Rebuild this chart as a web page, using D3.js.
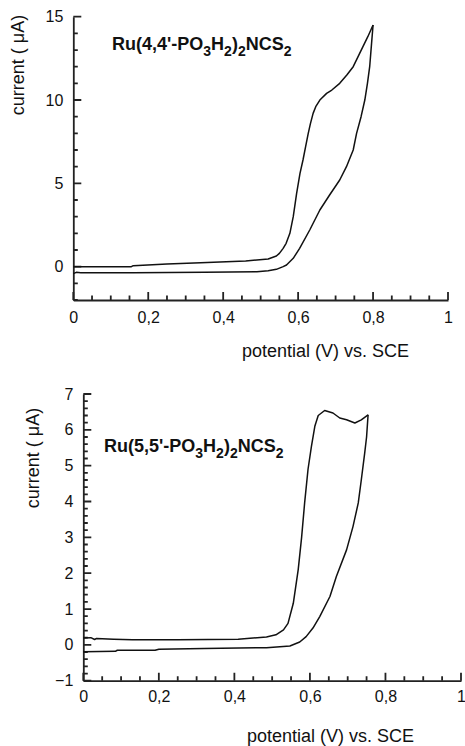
<!DOCTYPE html>
<html>
<head>
<meta charset="utf-8">
<script src="https://cdn.jsdelivr.net/npm/d3@7"></script>
<style>
  body { margin: 0; background: #fff; }
  svg text { font-family: "Liberation Sans", Arial, sans-serif; fill: #111; }
  .axis path { stroke: #222; stroke-width: 1.8; }
  .axis text { font-size: 16px; }
</style>
</head>
<body>
<script>
var width = 465,
    height = 746

// top panel: Ru(4,4'-PO3H2)2NCS2, potential (V) / current (uA)
var topForward = [[0,-0.42],[0.008,-0.34],[0.02,-0.36],[0.16,-0.36],[0.35,-0.34],[0.49,-0.3],[0.52,-0.24],
  [0.542,-0.16],[0.56,0.0],[0.569,0.1],[0.587,0.5],[0.604,1.1],[0.631,2.2],[0.658,3.4],[0.684,4.3],
  [0.711,5.2],[0.729,6.0],[0.747,7.0],[0.756,8.0],[0.768,9.0],[0.778,10.0],[0.785,11.0],[0.791,12.0],
  [0.796,13.4],[0.8,14.5]];
var topReverse = [[0.8,14.5],[0.786,13.8],[0.773,13.2],[0.76,12.6],[0.747,12.0],[0.73,11.5],[0.711,11.0],
  [0.69,10.6],[0.676,10.4],[0.658,10.0],[0.647,9.6],[0.64,9.2],[0.633,8.6],[0.627,8.0],[0.62,7.2],
  [0.613,6.4],[0.605,5.6],[0.596,4.4],[0.587,3.0],[0.578,2.0],[0.568,1.4],[0.56,1.1],[0.55,0.8],
  [0.542,0.64],[0.52,0.46],[0.46,0.34],[0.34,0.24],[0.25,0.16],[0.16,0.06],[0.155,0.0],[0,0.0]];

// bottom panel: Ru(5,5'-PO3H2)2NCS2
var botForward = [[0,-0.19],[0.085,-0.18],[0.09,-0.15],[0.19,-0.15],[0.2,-0.12],[0.32,-0.1],[0.485,-0.08],
  [0.547,-0.03],[0.573,0.08],[0.59,0.23],[0.608,0.47],[0.626,0.79],[0.653,1.35],[0.67,1.91],[0.697,2.65],
  [0.714,3.3],[0.728,3.96],[0.736,4.6],[0.745,5.35],[0.75,5.8],[0.754,6.42]];
var botReverse = [[0.754,6.42],[0.736,6.28],[0.719,6.19],[0.697,6.28],[0.679,6.33],[0.661,6.47],[0.639,6.54],
  [0.622,6.4],[0.613,6.1],[0.604,5.54],[0.595,4.9],[0.586,3.96],[0.578,3.0],[0.569,2.1],[0.556,1.16],
  [0.542,0.6],[0.53,0.42],[0.51,0.28],[0.485,0.22],[0.41,0.16],[0.25,0.14],[0.13,0.14],[0.08,0.16],
  [0.035,0.18],[0.03,0.15],[0.02,0.2],[0,0.19]];

var xMajor = [0, 0.2, 0.4, 0.6, 0.8, 1];
var topYMajor = [0, 5, 10, 15];
var botYMajor = [-1, 0, 1, 2, 3, 4, 5, 6, 7];

var svg = d3.select("body").append("svg")
    .attr("width", width)
    .attr("height", height);

var comma = function(d) { return String(d).replace(".", ","); };

function panel(p) {
  var x = d3.scaleLinear().domain([0, 1]).range([p.left, p.right]);
  var y = d3.scaleLinear().domain(p.yDomain).range([p.bottom, p.top]);
  var g = svg.append("g");

  // axis lines + labels
  g.append("g").attr("class", "axis")
      .attr("transform", "translate(0," + p.bottom + ")")
      .call(d3.axisBottom(x).tickValues(xMajor).tickSize(0)
            .tickPadding(p.xPad).tickFormat(comma));
  g.append("g").attr("class", "axis")
      .attr("transform", "translate(" + p.left + ",0)")
      .call(d3.axisLeft(y).tickValues(p.yMajor).tickSize(0)
            .tickPadding(10).tickFormat(d3.format("d")));

  // inward ticks, major longer than minor
  var isMajor = function(v, list) { return list.some(function(m) { return Math.abs(m - v) < 1e-6; }); };
  var dx = d3.range(0, 1.0001, 0.05).map(function(d) {
    return "M" + x(d) + "," + p.bottom + "V" + (p.bottom - (isMajor(d, xMajor) ? 8 : 4.5));
  }).join("");
  var dy = p.yMinor.map(function(d) {
    return "M" + p.left + "," + y(d) + "H" + (p.left + (isMajor(d, p.yMajor) ? 8 : 4.5));
  }).join("");
  g.append("path").attr("d", dx + dy)
      .attr("fill", "none")
      .attr("stroke", "#222")
      .attr("stroke-width", 1.8);

  var line = d3.line().x(function(d) { return x(d[0]); }).y(function(d) { return y(d[1]); });
  [p.fwd, p.rev].forEach(function(s) {
    g.append("path").datum(s)
        .attr("d", line)
        .attr("fill", "none")
        .attr("stroke", "#111")
        .attr("stroke-width", 1.5)
        .attr("stroke-linejoin", "round");
  });

  g.append("text")
      .attr("x", p.xTitle[0]).attr("y", p.xTitle[1])
      .style("font-size", "18px")
      .text("potential (V) vs. SCE");
  g.append("text")
      .attr("transform", "translate(" + p.yTitle[0] + "," + p.yTitle[1] + ") rotate(-90)")
      .attr("text-anchor", "middle")
      .style("font-size", "18px")
      .text("current ( \u03bcA)");

  // compound label with subscripts
  var t = g.append("text")
      .attr("x", p.label[0]).attr("y", p.label[1])
      .style("font-size", "18px")
      .style("font-weight", "bold");
  var parts = [[p.name, 0], ["3", 1], ["H", 0], ["2", 1], [")", 0], ["2", 1], ["NCS", 0], ["2", 1]];
  var shift = 0;
  parts.forEach(function(q) {
    var ddy = q[1] ? 6 - shift : -shift;
    shift += ddy;
    t.append("tspan").attr("dy", ddy)
        .style("font-size", q[1] ? "14px" : null)
        .text(q[0]);
  });
}

panel({left: 73.3, right: 448, top: 16.7, bottom: 300, yDomain: [-2, 15],
       yMajor: topYMajor, yMinor: d3.range(-2, 15.01, 1), xPad: 12,
       fwd: topForward, rev: topReverse,
       xTitle: [242, 357], yTitle: [24, 65], label: [112, 50], name: "Ru(4,4'-PO"});

panel({left: 83.3, right: 461, top: 394, bottom: 680.7, yDomain: [-1, 7],
       yMajor: botYMajor, yMinor: d3.range(-1, 7.01, 0.2), xPad: 10,
       fwd: botForward, rev: botReverse,
       xTitle: [247, 742], yTitle: [39, 458], label: [104, 452], name: "Ru(5,5'-PO"});
</script>
</body>
</html>
